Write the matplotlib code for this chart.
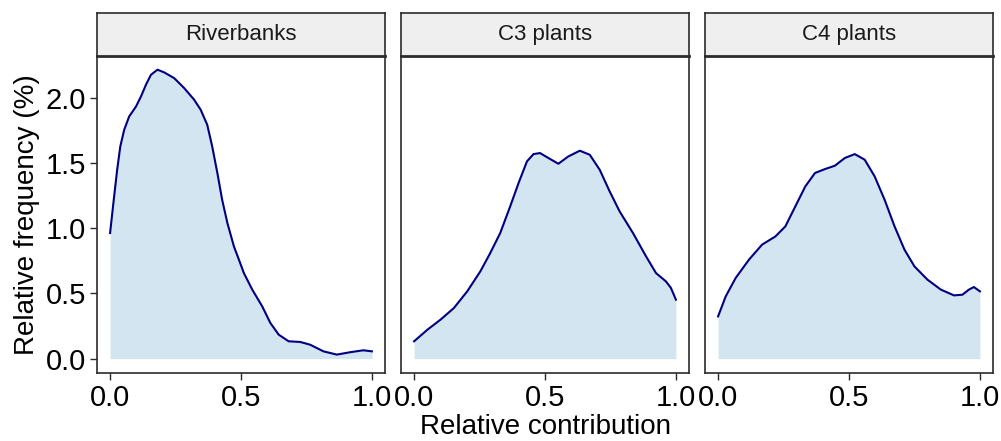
import matplotlib
matplotlib.use("Agg")
import matplotlib.pyplot as plt

plt.rcParams["font.family"] = ["Liberation Sans", "DejaVu Sans"]

panels = ["Riverbanks", "C3 plants", "C4 plants"]

river_x = [0.0, 0.014, 0.027, 0.039, 0.054, 0.073, 0.099, 0.118, 0.137, 0.156,
           0.181, 0.207, 0.245, 0.283, 0.321, 0.346, 0.371, 0.39, 0.41, 0.428,
           0.448, 0.473, 0.492, 0.511, 0.543, 0.581, 0.612, 0.644, 0.682, 0.726,
           0.764, 0.815, 0.866, 0.916, 0.967, 1.0]
river_y = [0.963, 1.218, 1.448, 1.627, 1.755, 1.857, 1.933, 2.010, 2.10, 2.176,
           2.215, 2.194, 2.15, 2.074, 1.985, 1.908, 1.793, 1.627, 1.42, 1.218,
           1.04, 0.86, 0.759, 0.656, 0.529, 0.401, 0.274, 0.184, 0.133, 0.128,
           0.107, 0.056, 0.031, 0.049, 0.064, 0.056]

c3_x = [0.0, 0.051, 0.101, 0.152, 0.203, 0.253, 0.291, 0.329, 0.367, 0.399,
        0.431, 0.456, 0.481, 0.513, 0.551, 0.589, 0.633, 0.671, 0.709, 0.747,
        0.785, 0.836, 0.886, 0.924, 0.962, 0.981, 1.0]
c3_y = [0.133, 0.222, 0.299, 0.388, 0.516, 0.669, 0.81, 0.963, 1.167, 1.346,
        1.512, 1.568, 1.576, 1.538, 1.494, 1.55, 1.594, 1.563, 1.448, 1.282,
        1.129, 0.963, 0.784, 0.656, 0.592, 0.542, 0.452]

c4_x = [0.0, 0.029, 0.067, 0.118, 0.168, 0.219, 0.257, 0.295, 0.333, 0.37,
        0.408, 0.446, 0.484, 0.522, 0.56, 0.598, 0.636, 0.674, 0.712, 0.75,
        0.8, 0.851, 0.901, 0.933, 0.958, 0.977, 1.0]
c4_y = [0.324, 0.477, 0.618, 0.759, 0.874, 0.937, 1.014, 1.167, 1.32, 1.423,
        1.453, 1.479, 1.538, 1.568, 1.525, 1.397, 1.218, 1.014, 0.835, 0.707,
        0.605, 0.529, 0.485, 0.49, 0.529, 0.549, 0.516]

series = [(river_x, river_y), (c3_x, c3_y), (c4_x, c4_y)]

x_ticks = [0.0, 0.5, 1.0]
y_ticks = [0.0, 0.5, 1.0, 1.5, 2.0]

fill_col = "#d3e5f0"
line_col = "#000080"
edge_col = "#2b2b2b"

fig = plt.figure(figsize=(10.01, 4.41), dpi=100)
W, H = 1001, 441
lefts = [97, 401, 705]
pw = 288
p_top, p_bot = 56, 373
s_top = 13

for i, (name, (xs, ys)) in enumerate(zip(panels, series)):
    l = lefts[i]
    ax = fig.add_axes([l / W, 1 - p_bot / H, pw / W, (p_bot - p_top) / H])
    ax.fill_between(xs, 0, ys, color=fill_col, linewidth=0)
    ax.plot(xs, ys, color=line_col, linewidth=1.5, solid_joinstyle="round")
    ax.set_xlim(-0.05, 1.05)
    ax.set_ylim(-0.11, 2.32)
    ax.set_xticks(x_ticks)
    ax.set_xticklabels([f"{v:.1f}" for v in x_ticks])
    ax.set_yticks(y_ticks)
    if i == 0:
        ax.set_yticklabels([f"{v:.1f}" for v in y_ticks])
        ax.set_ylabel("Relative frequency (%)", fontsize=20, labelpad=4)
    else:
        ax.tick_params(axis="y", left=False, labelleft=False)
    if i == 1:
        ax.set_xlabel("Relative contribution", fontsize=20, labelpad=1.5)
    ax.tick_params(length=5, width=1, color=edge_col, labelsize=21, pad=3,
                   labelcolor="black")
    for sp in ax.spines.values():
        sp.set_color(edge_col)
        sp.set_linewidth(1.2)

    sax = fig.add_axes([l / W, 1 - p_top / H, pw / W, (p_top - s_top) / H])
    sax.set_facecolor("#efefef")
    sax.set_xticks([])
    sax.set_yticks([])
    for sp in sax.spines.values():
        sp.set_color(edge_col)
        sp.set_linewidth(1.2)
    sax.spines["bottom"].set_linewidth(2)
    sax.text(0.5, 0.5, name, ha="center", va="center", fontsize=16,
             color="#1a1a1a", transform=sax.transAxes)

fig.savefig("out.png", dpi=100)
